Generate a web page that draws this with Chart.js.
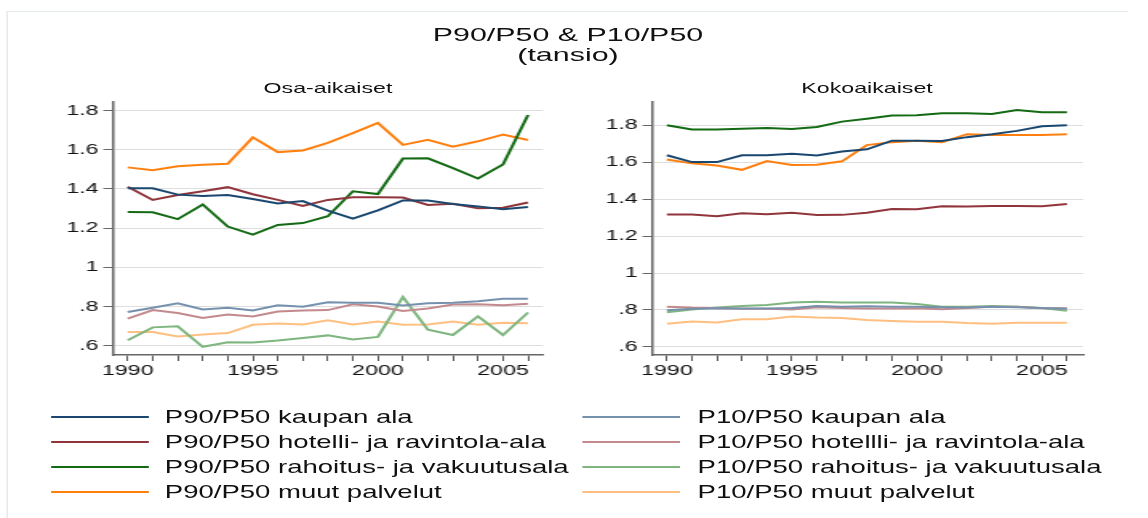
<!DOCTYPE html>
<html>
<head>
<meta charset="utf-8">
<script src="https://cdn.jsdelivr.net/npm/chart.js@4/dist/chart.umd.min.js"></script>
<style>
  body { margin: 0; background: #fff; overflow: hidden; }
  #stage {
    position: absolute; left: 0; top: 0; width: 717.5px; height: 518px;
    transform: scaleX(1.6); transform-origin: 0 0;
    font-family: "Liberation Sans", Arial, sans-serif; color: #111;
  }
  .txt { position: absolute; white-space: nowrap; }
  .center { text-align: center; }
  .narrow { transform: scaleX(0.925); transform-origin: 0 50%; }
  canvas { position: absolute; }
  .swatch { position: absolute; height: 2px; }
</style>
</head>
<body>
<div id="stage">
  <div style="position:absolute; left:4.4px; top:11px; width:699.4px; height:520px; border-top:1px solid #e4ecec; border-left:1px solid #e4ecec;"></div>
  <div class="txt center" style="left:205px; width:300px; top:23px; line-height:24px; font-size:19px;">P90/P50 &amp; P10/P50</div>
  <div class="txt center" style="left:205px; width:300px; top:43px; line-height:24px; font-size:19px;">(tansio)</div>
  <div class="txt center" id="subLeft" style="left:145px; width:120px; top:79px; line-height:18px; font-size:14.5px;"></div>
  <div class="txt center" id="subRight" style="left:481.9px; width:120px; top:79px; line-height:18px; font-size:14.5px;"></div>
  <canvas id="chartLeft" width="325" height="290" style="left:25px; top:90px; width:325px; height:290px;"></canvas>
  <canvas id="chartRight" width="325" height="290" style="left:361.9px; top:90px; width:325px; height:290px;"></canvas>
  <div id="legend"></div>
</div>
<script>
// Years on the x axis
const years = [1990, 1991, 1992, 1993, 1994, 1995, 1996, 1997, 1998, 1999, 2000, 2001, 2002, 2003, 2004, 2005, 2006];
const yTicks = [0.6, 0.8, 1.0, 1.2, 1.4, 1.6, 1.8];
const panelTitles = ['Osa-aikaiset', 'Kokoaikaiset'];

const seriesLabels = [
  'P90/P50 kaupan ala', 'P90/P50 hotelli- ja ravintola-ala',
  'P90/P50 rahoitus- ja vakuutusala', 'P90/P50 muut palvelut',
  'P10/P50 kaupan ala', 'P10/P50 hotellli- ja ravintola-ala',
  'P10/P50 rahoitus- ja vakuutusala', 'P10/P50 muut palvelut'
];
const seriesColors = [
  '#1a476f', '#90353b', '#136a13', '#ff7f0e',
  '#7691ae', '#c38a8e', '#7fb57f', '#ffbf80'
];

// Osa-aikaiset (part-time)
const osaP90Kauppa   = [1.403, 1.403, 1.371, 1.364, 1.369, 1.349, 1.326, 1.338, 1.289, 1.248, 1.291, 1.341, 1.341, 1.323, 1.311, 1.296, 1.308];
const osaP90Hotelli  = [1.411, 1.344, 1.369, 1.388, 1.409, 1.373, 1.344, 1.313, 1.344, 1.358, 1.358, 1.356, 1.318, 1.324, 1.301, 1.304, 1.331];
const osaP90Rahoitus = [1.283, 1.281, 1.246, 1.321, 1.208, 1.167, 1.216, 1.226, 1.261, 1.388, 1.374, 1.555, 1.556, 1.506, 1.453, 1.525, 1.777];
const osaP90Muut     = [1.510, 1.496, 1.516, 1.523, 1.528, 1.663, 1.588, 1.596, 1.635, 1.685, 1.737, 1.625, 1.651, 1.616, 1.643, 1.677, 1.650];
const osaP10Kauppa   = [0.772, 0.794, 0.817, 0.785, 0.794, 0.780, 0.807, 0.799, 0.822, 0.820, 0.819, 0.805, 0.817, 0.820, 0.827, 0.840, 0.840];
const osaP10Hotelli  = [0.739, 0.782, 0.767, 0.742, 0.759, 0.750, 0.775, 0.780, 0.782, 0.812, 0.800, 0.777, 0.790, 0.810, 0.812, 0.807, 0.814];
const osaP10Rahoitus = [0.628, 0.694, 0.699, 0.595, 0.618, 0.617, 0.627, 0.640, 0.653, 0.632, 0.645, 0.849, 0.682, 0.655, 0.750, 0.655, 0.770];
const osaP10Muut     = [0.670, 0.670, 0.648, 0.657, 0.665, 0.707, 0.714, 0.709, 0.730, 0.709, 0.724, 0.707, 0.709, 0.724, 0.707, 0.717, 0.715];

// Kokoaikaiset (full-time)
const kokoP90Kauppa   = [1.638, 1.601, 1.601, 1.638, 1.638, 1.646, 1.637, 1.658, 1.670, 1.717, 1.717, 1.715, 1.736, 1.752, 1.770, 1.795, 1.800];
const kokoP90Hotelli  = [1.317, 1.317, 1.308, 1.324, 1.319, 1.326, 1.314, 1.315, 1.326, 1.347, 1.346, 1.362, 1.360, 1.363, 1.363, 1.362, 1.374];
const kokoP90Rahoitus = [1.800, 1.777, 1.777, 1.782, 1.786, 1.780, 1.791, 1.820, 1.836, 1.853, 1.855, 1.866, 1.866, 1.862, 1.883, 1.871, 1.871];
const kokoP90Muut     = [1.615, 1.594, 1.582, 1.559, 1.606, 1.585, 1.587, 1.605, 1.693, 1.709, 1.717, 1.708, 1.752, 1.747, 1.747, 1.747, 1.752];
const kokoP10Kauppa   = [0.799, 0.806, 0.809, 0.808, 0.808, 0.811, 0.822, 0.817, 0.820, 0.818, 0.818, 0.815, 0.813, 0.817, 0.815, 0.811, 0.806];
const kokoP10Hotelli  = [0.817, 0.813, 0.811, 0.806, 0.806, 0.802, 0.815, 0.811, 0.808, 0.808, 0.809, 0.804, 0.811, 0.818, 0.817, 0.809, 0.809];
const kokoP10Rahoitus = [0.788, 0.802, 0.813, 0.822, 0.827, 0.840, 0.845, 0.841, 0.841, 0.840, 0.832, 0.818, 0.817, 0.822, 0.818, 0.811, 0.795];
const kokoP10Muut     = [0.725, 0.738, 0.732, 0.749, 0.750, 0.764, 0.759, 0.757, 0.745, 0.740, 0.736, 0.736, 0.729, 0.725, 0.731, 0.731, 0.731];

const osaSeries = [osaP90Kauppa, osaP90Hotelli, osaP90Rahoitus, osaP90Muut, osaP10Kauppa, osaP10Hotelli, osaP10Rahoitus, osaP10Muut];
const kokoSeries = [kokoP90Kauppa, kokoP90Hotelli, kokoP90Rahoitus, kokoP90Muut, kokoP10Kauppa, kokoP10Hotelli, kokoP10Rahoitus, kokoP10Muut];

const FONT = '"Liberation Sans", Arial, sans-serif';

document.getElementById('subLeft').textContent = panelTitles[0];
document.getElementById('subRight').textContent = panelTitles[1];

// Stata-style y labels: ".6", ".8", "1", "1.2" ...
function formatY(v) {
  if (Math.abs(v - 1) < 1e-9) return '1';
  return v.toFixed(1).replace(/^0/, '');
}

function makePanel(canvasId, series, yMin, yMax, xMax, padRight) {
  const datasets = series.map((vals, i) => ({
    label: seriesLabels[i],
    data: years.map((y, j) => ({ x: y, y: vals[j] })),
    borderColor: seriesColors[i],
    borderWidth: 2,
    pointRadius: 0,
    tension: 0,
    fill: false
  }));

  return new Chart(document.getElementById(canvasId), {
    type: 'line',
    data: { datasets },
    options: {
      responsive: false,
      animation: false,
      devicePixelRatio: 1,
      layout: { padding: { top: 7, right: padRight, bottom: 0, left: 0 } },
      plugins: { legend: { display: false }, tooltip: { enabled: false } },
      scales: {
        x: {
          type: 'linear',
          min: 1989.41,
          max: xMax,
          afterBuildTicks: axis => { axis.ticks = years.map(v => ({ value: v })); },
          afterFit: axis => { axis.height = 25; },
          grid: { drawOnChartArea: false, tickLength: 6, tickColor: '#555', tickWidth: 1 },
          border: { color: '#666', width: 1.5 },
          ticks: {
            autoSkip: false, maxRotation: 0, padding: 1,
            color: '#111', font: { family: FONT, size: 14.5 },
            callback: v => (v % 5 === 0 ? String(v) : '')
          }
        },
        y: {
          min: yMin,
          max: yMax,
          afterBuildTicks: axis => { axis.ticks = yTicks.map(v => ({ value: v })); },
          afterFit: axis => { axis.width = 45.6; },
          grid: { color: '#dedede', lineWidth: 1, tickLength: 6, tickColor: '#666', tickWidth: 1 },
          border: { color: '#666', width: 1.5 },
          ticks: {
            padding: 3, color: '#111', font: { family: FONT, size: 14.5 },
            callback: v => formatY(v)
          }
        }
      }
    }
  });
}

makePanel('chartLeft', osaSeries, 0.553, 1.845, 2006.6, 10.6);
makePanel('chartRight', kokoSeries, 0.556, 1.928, 2006.65, 10);

// Two-column legend below the panels (Stata row-wise order)
const legend = document.getElementById('legend');
const rowY = [417, 442, 467, 492];
const colLine = [{ x: 32.3, w: 60.8, tx: 102.5 }, { x: 364.4, w: 60.6, tx: 435.6 }];
seriesLabels.forEach((label, i) => {
  const col = i < 4 ? 0 : 1;
  const row = i % 4;
  const sw = document.createElement('div');
  sw.className = 'swatch';
  sw.style.left = colLine[col].x + 'px';
  sw.style.width = colLine[col].w + 'px';
  sw.style.top = (rowY[row] - 1) + 'px';
  sw.style.background = seriesColors[i];
  legend.appendChild(sw);
  const t = document.createElement('div');
  t.className = 'txt narrow';
  t.style.left = colLine[col].tx + 'px';
  t.style.top = (rowY[row] - 12) + 'px';
  t.style.lineHeight = '24px';
  t.style.fontSize = '18.6px';
  t.textContent = label;
  legend.appendChild(t);
});
</script>
</body>
</html>
